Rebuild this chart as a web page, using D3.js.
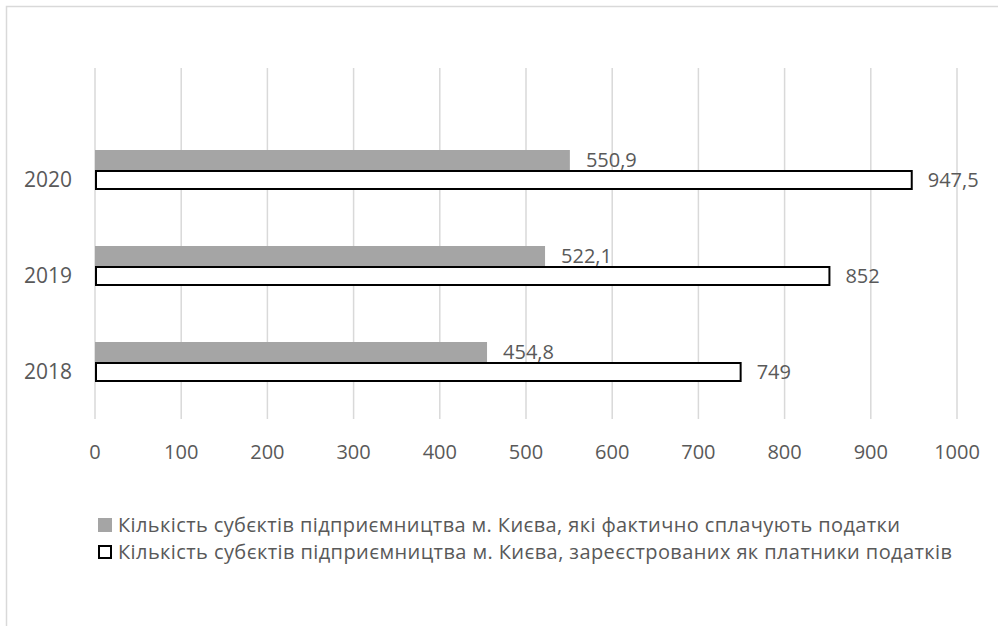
<!DOCTYPE html>
<html>
<head>
<meta charset="utf-8">
<script src="https://cdn.jsdelivr.net/npm/d3@7"></script>
<style>
  body { margin: 0; background: #fff; }
  text { font-family: "Open Sans", sans-serif; fill: #595959; }
</style>
</head>
<body>
<svg width="998" height="626"></svg>
<script>
var years = ['2020', '2019', '2018'];
var paying = [550.9, 522.1, 454.8];
var registered = [947.5, 852, 749];
var payingLabels = ['550,9', '522,1', '454,8'];
var registeredLabels = ['947,5', '852', '749'];
var ticks = [0, 100, 200, 300, 400, 500, 600, 700, 800, 900, 1000];
var legendNames = [
    'Кількість субєктів підприємництва м. Києва, які фактично сплачують податки',
    'Кількість субєктів підприємництва м. Києва, зареєстрованих як платники податків'
];

var svg = d3.select('svg');

// chart frame (left and top edges only are visible)
svg.append('path')
    .attr('d', 'M6.5,626V6.5H998')
    .attr('fill', 'none')
    .attr('stroke', '#d9d9d9')
    .attr('stroke-width', 1.5);

var x = d3.scaleLinear().domain([0, 1000]).range([95, 957]);
var y = d3.scaleBand().domain(years).range([122, 410]);

// gridlines
svg.selectAll('.grid')
    .data(ticks)
    .enter()
    .append('line')
    .attr('x1', function (d) { return x(d); })
    .attr('x2', function (d) { return x(d); })
    .attr('y1', 68)
    .attr('y2', 419)
    .attr('stroke', '#d9d9d9')
    .attr('stroke-width', 1.5);

// tick labels
svg.selectAll('.tick')
    .data(ticks)
    .enter()
    .append('text')
    .attr('x', function (d) { return x(d); })
    .attr('y', 452)
    .attr('dy', '0.35em')
    .attr('text-anchor', 'middle')
    .style('font-size', '20px')
    .text(function (d) { return d; });

var barH = 20;
function mid(d) { return y(d) + y.bandwidth() / 2; }

// grey bars
svg.selectAll('.pay')
    .data(years)
    .enter()
    .append('rect')
    .attr('x', x(0))
    .attr('y', function (d) { return mid(d) - barH; })
    .attr('width', function (d, i) { return x(paying[i]) - x(0); })
    .attr('height', barH)
    .attr('fill', '#a5a5a5');

// outlined bars
svg.selectAll('.reg')
    .data(years)
    .enter()
    .append('rect')
    .attr('x', x(0) + 1)
    .attr('y', function (d) { return mid(d) + 1; })
    .attr('width', function (d, i) { return x(registered[i]) - x(0) - 1; })
    .attr('height', barH - 2)
    .attr('fill', '#fff')
    .attr('stroke', '#000')
    .attr('stroke-width', 2);

// value labels
svg.selectAll('.payLab')
    .data(years)
    .enter()
    .append('text')
    .attr('x', function (d, i) { return x(paying[i]) + 16; })
    .attr('y', function (d) { return mid(d) - barH / 2; })
    .attr('dy', '0.35em')
    .style('font-size', '20px')
    .text(function (d, i) { return payingLabels[i]; });

svg.selectAll('.regLab')
    .data(years)
    .enter()
    .append('text')
    .attr('x', function (d, i) { return x(registered[i]) + 16; })
    .attr('y', function (d) { return mid(d) + barH / 2; })
    .attr('dy', '0.35em')
    .style('font-size', '20px')
    .text(function (d, i) { return registeredLabels[i]; });

// category labels
svg.selectAll('.cat')
    .data(years)
    .enter()
    .append('text')
    .attr('x', 72)
    .attr('y', function (d) { return mid(d) + 10; })
    .attr('dy', '0.35em')
    .attr('text-anchor', 'end')
    .style('font-size', '21px')
    .text(function (d) { return d; });

// legend
var legendWidths = [782, 834];
var legend = svg.selectAll('.legend')
    .data(legendNames)
    .enter()
    .append('g')
    .attr('transform', function (d, i) { return 'translate(98,' + (525 + i * 27) + ')'; });

legend.append('rect')
    .attr('x', function (d, i) { return i ? 1 : 0; })
    .attr('y', function (d, i) { return i ? -6 : -7; })
    .attr('width', function (d, i) { return i ? 12 : 14; })
    .attr('height', function (d, i) { return i ? 12 : 14; })
    .attr('fill', function (d, i) { return i ? '#fff' : '#a5a5a5'; })
    .attr('stroke', function (d, i) { return i ? '#000' : 'none'; })
    .attr('stroke-width', 2);

legend.append('text')
    .attr('x', 20)
    .attr('dy', '0.35em')
    .attr('textLength', function (d, i) { return legendWidths[i]; })
    .attr('lengthAdjust', 'spacing')
    .style('font-size', '20px')
    .text(function (d) { return d; });
</script>
</body>
</html>
